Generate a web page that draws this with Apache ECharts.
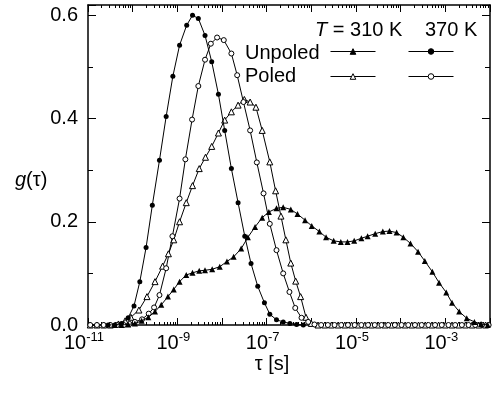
<!DOCTYPE html>
<html>
<head>
<meta charset="utf-8">
<script src="https://cdn.jsdelivr.net/npm/echarts@6/dist/echarts.min.js"></script>
<style>
  html, body { margin: 0; padding: 0; background: #fff; }
  #chart { width: 493px; height: 396px; }
</style>
</head>
<body>
<div id="chart"></div>
<script>
// log10(tau / s) and g(tau)
const unpoled310Exp = [-10.4, -10.25, -10.1, -9.95, -9.8, -9.65, -9.5, -9.36, -9.21, -9.08,
  -8.95, -8.8, -8.66, -8.51, -8.38, -8.22, -8.05, -7.89, -7.74, -7.57, -7.42, -7.26, -7.1,
  -6.95, -6.78, -6.63, -6.46, -6.31, -6.14, -5.99, -5.82, -5.67, -5.5, -5.34, -5.19, -5.04,
  -4.88, -4.74, -4.57, -4.4, -4.25, -4.09, -3.94, -3.78, -3.61, -3.46, -3.29, -3.14,
  -2.98, -2.85, -2.69, -2.52, -2.35, -2.2, -2.05];
const unpoled310G = [0, 0, 0.001, 0.003, 0.008, 0.015, 0.026, 0.039, 0.055, 0.069,
  0.084, 0.097, 0.101, 0.105, 0.106, 0.108, 0.113, 0.123, 0.132, 0.148, 0.170, 0.190, 0.208,
  0.219, 0.226, 0.228, 0.224, 0.215, 0.203, 0.192, 0.181, 0.170, 0.163, 0.161, 0.161, 0.163,
  0.168, 0.172, 0.177, 0.181, 0.182, 0.179, 0.170, 0.158, 0.142, 0.124, 0.103, 0.082,
  0.063, 0.043, 0.026, 0.013, 0.006, 0.002, 0];

const unpoled370Exp = [-10.55, -10.4, -10.25, -10.1, -9.97, -9.84, -9.7, -9.56, -9.4, -9.25,
  -9.1, -8.95, -8.79, -8.66, -8.53, -8.38, -8.23, -8.08, -7.94, -7.79,
  -7.64, -7.49, -7.35, -7.2, -7.05, -6.93, -6.78, -6.63, -6.48, -6.33, -6.18];
const unpoled370G = [0, 0, 0.003, 0.014, 0.037, 0.084, 0.15, 0.232, 0.319, 0.404,
  0.482, 0.542, 0.581, 0.600, 0.594, 0.561, 0.510, 0.447, 0.377, 0.303,
  0.237, 0.172, 0.119, 0.075, 0.043, 0.021, 0.01, 0.006, 0.003, 0.001, 0];

const poled310Exp = [-10.95, -10.8, -10.65, -10.5, -10.32, -10.17, -10.04, -9.86, -9.68, -9.5,
  -9.33, -9.2, -9.08, -8.95, -8.8, -8.66, -8.51, -8.37, -8.23, -8.08, -7.94, -7.79, -7.64,
  -7.5, -7.37, -7.24, -7.1, -6.93, -6.8, -6.68, -6.57, -6.46, -6.35, -6.24, -6.12, -6.0,
  -5.85, -5.7, -5.55, -5.4, -5.25, -5.1, -4.95, -4.8, -4.65, -4.5, -4.35, -4.2, -4.05,
  -3.9, -3.75, -3.6, -3.45, -3.3, -3.15, -3.0, -2.85, -2.7, -2.55, -2.4, -2.25, -2.1];
const poled310G = [0, 0, 0, 0, 0.002, 0.008, 0.015, 0.029, 0.055, 0.084,
  0.114, 0.138, 0.165, 0.2, 0.237, 0.27, 0.303, 0.325, 0.346, 0.372, 0.397, 0.413, 0.426,
  0.437, 0.432, 0.422, 0.377, 0.316, 0.26, 0.211, 0.165, 0.12, 0.085, 0.055, 0.015, 0.003,
  0, 0, 0, 0, 0, 0, 0, 0, 0, 0, 0, 0, 0,
  0, 0, 0, 0, 0, 0, 0, 0, 0, 0, 0, 0, 0];

const poled370Exp = [-10.95, -10.8, -10.65, -10.5, -10.35, -10.2, -10.07, -9.95, -9.79, -9.64,
  -9.52, -9.4, -9.25, -9.11, -8.95, -8.82, -8.67, -8.53, -8.38, -8.25, -8.11, -7.96, -7.79,
  -7.66, -7.52, -7.37, -7.22, -7.07, -6.93, -6.78, -6.63, -6.49, -6.36, -6.22, -6.07, -5.93,
  -5.78, -5.63, -5.48, -5.33, -5.18, -5.03, -4.88, -4.73, -4.58, -4.43, -4.28, -4.13, -3.98,
  -3.83, -3.68, -3.53, -3.38, -3.23, -3.08, -2.93, -2.78, -2.63, -2.48, -2.33, -2.18, -2.03];
const poled370G = [0, 0, 0, 0, 0, 0, 0.002, 0.006, 0.011, 0.022,
  0.034, 0.058, 0.11, 0.172, 0.245, 0.321, 0.398, 0.463, 0.514, 0.545, 0.557, 0.552, 0.526,
  0.484, 0.432, 0.377, 0.315, 0.255, 0.196, 0.145, 0.1, 0.064, 0.033, 0.014, 0.006, 0.001,
  0, 0, 0, 0, 0, 0, 0, 0, 0, 0, 0, 0, 0,
  0, 0, 0, 0, 0, 0, 0, 0, 0, 0, 0, 0, 0];

const yTicks = ['0.0', '0.2', '0.4', '0.6'];

const FONT = '"Liberation Sans", Arial, Helvetica, sans-serif';

const pairs = (exps, vals) => exps.map((e, i) => [Math.pow(10, e), vals[i]]);

const chart = echarts.init(document.getElementById('chart'), null, { renderer: 'canvas' });

const lineSeries = (name, exps, vals, symbol, filled, size) => ({
  name: name,
  type: 'line',
  data: pairs(exps, vals),
  symbol: symbol,
  symbolSize: size,
  showAllSymbol: true,
  lineStyle: { color: '#000', width: 1 },
  itemStyle: filled
    ? { color: '#000', borderColor: '#000', borderWidth: 0 }
    : { color: '#fff', borderColor: '#000', borderWidth: 1 },
  emphasis: { disabled: true },
  z: filled ? 3 : 2
});

const xAxisBase = {
  type: 'log',
  logBase: 10,
  min: 1e-11,
  max: 1e-2,
  axisLine: { onZero: false, lineStyle: { color: '#000', width: 1.5 } },
  axisTick: { inside: true, length: 7, lineStyle: { color: '#000', width: 1 } },
  minorTick: { show: true, splitNumber: 9, length: 3, lineStyle: { color: '#000', width: 1 } },
  splitLine: { show: false },
  minorSplitLine: { show: false }
};

const yAxisBase = {
  type: 'value',
  min: 0,
  max: 0.62,
  interval: 0.2,
  axisLine: { show: true, onZero: false, lineStyle: { color: '#000', width: 1.5 } },
  axisTick: { inside: true, length: 8, lineStyle: { color: '#000', width: 1 } },
  minorTick: { show: true, splitNumber: 2, length: 5, lineStyle: { color: '#000', width: 1 } },
  splitLine: { show: false }
};

const legendRow = (names, top) => ({
  data: names,
  left: 330, top: top, padding: 0,
  itemWidth: 45, itemHeight: 7, itemGap: 32,
  selectedMode: false,
  lineStyle: { width: 1 },
  itemStyle: { borderWidth: 1 },
  formatter: () => '',
  textStyle: { fontSize: 1 }
});

const option = {
  animation: false,
  backgroundColor: '#fff',
  textStyle: { fontFamily: FONT },
  grid: { left: 88, top: 5, right: -1, bottom: 71, containLabel: false },
  xAxis: [
    Object.assign({}, xAxisBase, {
      position: 'bottom',
      axisLabel: {
        margin: 6,
        padding: [0, 8, 0, 0],
        formatter: (v) => {
          const e = Math.round(Math.log10(v));
          return Math.abs(e) % 2 === 1 ? '{b|10}{s|' + e + '}' : '';
        },
        rich: {
          b: { fontSize: 20, fontFamily: FONT, color: '#000', lineHeight: 24 },
          s: { fontSize: 13, fontFamily: FONT, color: '#000', verticalAlign: 'top', lineHeight: 13 }
        }
      }
    }),
    Object.assign({}, xAxisBase, { position: 'top', axisLabel: { show: false } })
  ],
  yAxis: [
    Object.assign({}, yAxisBase, {
      position: 'left',
      axisLabel: {
        margin: 10,
        fontSize: 20,
        color: '#000',
        fontFamily: FONT,
        showMaxLabel: false,
        formatter: (v) => {
          const s = v.toFixed(1);
          return yTicks.indexOf(s) >= 0 && Math.abs(v * 10 - Math.round(v * 10)) < 1e-6 ? s : '';
        }
      }
    }),
    Object.assign({}, yAxisBase, { position: 'right', axisLabel: { show: false } })
  ],
  legend: [
    legendRow(['Unpoled 310 K', 'Unpoled 370 K'], 48),
    legendRow(['Poled 310 K', 'Poled 370 K'], 73)
  ],
  graphic: [
    {
      type: 'text', x: 315, y: 30,
      style: {
        text: '{i|T} = 310 K', verticalAlign: 'middle', fill: '#000',
        font: '20px ' + FONT,
        rich: { i: { fontStyle: 'italic', fontSize: 20, fontFamily: FONT } }
      }
    },
    { type: 'text', x: 425, y: 30, style: { text: '370 K', verticalAlign: 'middle', fill: '#000', font: '20px ' + FONT } },
    { type: 'text', x: 245, y: 53, style: { text: 'Unpoled', verticalAlign: 'middle', fill: '#000', font: '20px ' + FONT } },
    { type: 'text', x: 245, y: 76, style: { text: 'Poled', verticalAlign: 'middle', fill: '#000', font: '20px ' + FONT } },
    {
      type: 'text', x: 15, y: 180,
      style: {
        text: '{i|g}(τ)', verticalAlign: 'middle', fill: '#000',
        font: '20px ' + FONT,
        rich: { i: { fontStyle: 'italic', fontSize: 20, fontFamily: FONT } }
      }
    },
    { type: 'text', x: 272, y: 364, style: { text: 'τ [s]', align: 'center', verticalAlign: 'middle', fill: '#000', font: '20px ' + FONT } }
  ],
  series: [
    lineSeries('Poled 310 K', poled310Exp, poled310G, 'triangle', false, 6),
    lineSeries('Poled 370 K', poled370Exp, poled370G, 'circle', false, 5),
    lineSeries('Unpoled 310 K', unpoled310Exp, unpoled310G, 'triangle', true, 6),
    lineSeries('Unpoled 370 K', unpoled370Exp, unpoled370G, 'circle', true, 5)
  ]
};

chart.setOption(option);
window.addEventListener('resize', () => chart.resize());
</script>
</body>
</html>
